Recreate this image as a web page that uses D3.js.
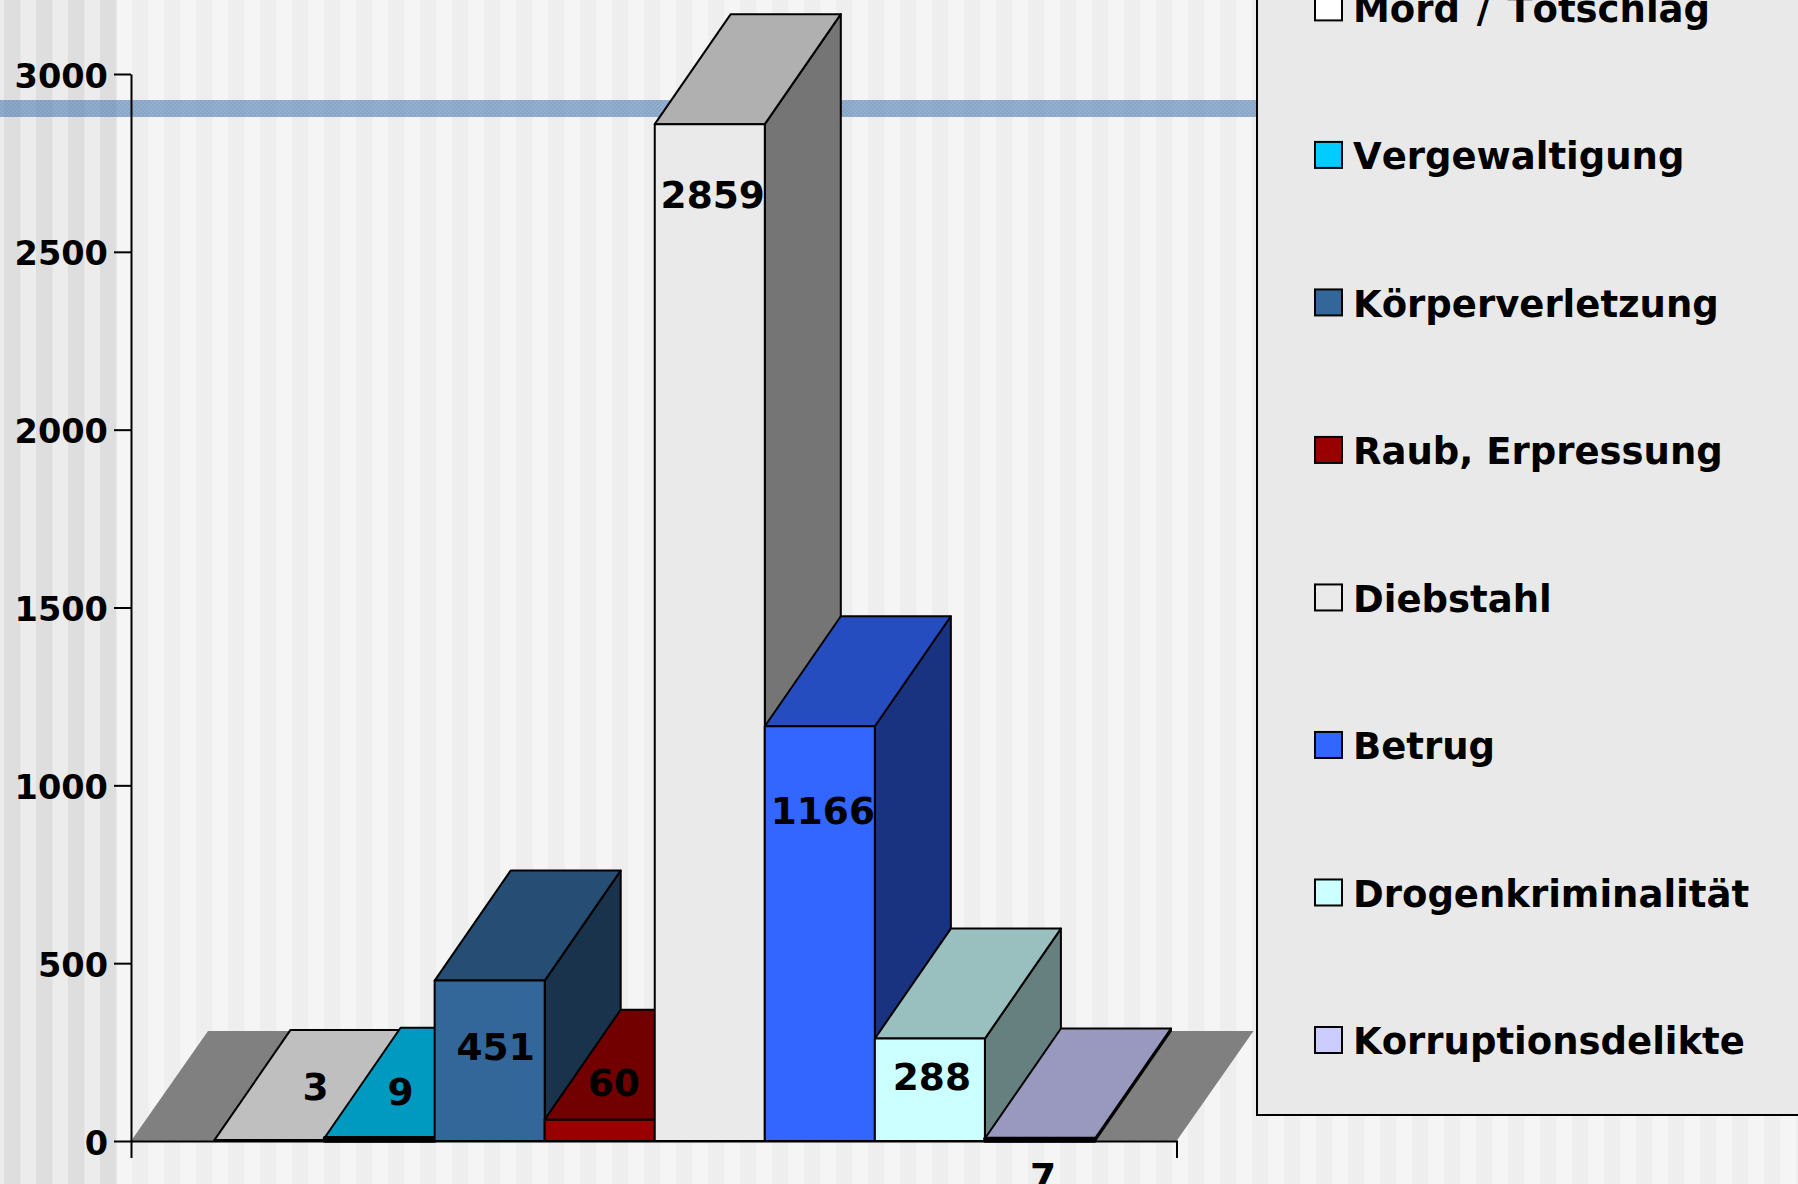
<!DOCTYPE html>
<html>
<head>
<meta charset="utf-8">
<script src="https://cdn.jsdelivr.net/npm/d3@7"></script>
<style>
html, body { margin: 0; padding: 0; background: #f5f5f5; overflow: hidden; }
text { font-family: "DejaVu Sans", sans-serif; font-weight: bold; fill: #000; }
</style>
</head>
<body>
<div id="chart-area"></div>
<script>
// Data
const categories = ["Mord / Totschlag", "Vergewaltigung", "Körperverletzung", "Raub, Erpressung",
    "Diebstahl", "Betrug", "Drogenkriminalität", "Korruptionsdelikte"];
const values = [3, 9, 451, 60, 2859, 1166, 288, 7];
const colors = ["#ffffff", "#00ccff", "#336699", "#990000", "#eaeaea", "#3366ff", "#ccffff", "#ccccff"];
const yTicks = [0, 500, 1000, 1500, 2000, 2500, 3000];

// labels were moved by hand in the original, so each one has its own offset
const labelOffsets = [[47, -53], [22, -46], [7, 66], [15, -37], [4, 70], [4, 84], [3, 38], [4, 38]];

let width = 1798, height = 1184;
let left = 131, right = 1176.5, zero = 1141, top3000 = 74;
let depth = {x: 76, y: 110};
let barShift = 1;

let svg = d3.select("#chart-area").append("svg")
    .attr("width", width)
    .attr("height", height)
    .style("display", "block");

// Background stripes
let stripes = svg.append("g");
stripes.append("rect").attr("width", 116).attr("height", height).attr("fill", "#ececec");
stripes.append("rect").attr("x", 116).attr("width", width - 116).attr("height", height).attr("fill", "#f5f5f5");
d3.range(4, width, 32).forEach(function(sx) {
    stripes.append("rect")
        .attr("x", sx)
        .attr("width", 16.5)
        .attr("height", height)
        .attr("fill", sx < 116 ? "#dedede" : "#eeeeee");
});

// Blue band behind the chart
let defs = svg.append("defs");
let pat = defs.append("pattern")
    .attr("id", "dither")
    .attr("width", 4).attr("height", 4)
    .attr("patternUnits", "userSpaceOnUse");
pat.append("rect").attr("width", 4).attr("height", 4).attr("fill", "#5a84b6").attr("fill-opacity", 0.62);
pat.append("rect").attr("width", 2).attr("height", 2).attr("fill", "#3f6ca3").attr("fill-opacity", 0.12);
pat.append("rect").attr("x", 2).attr("y", 2).attr("width", 2).attr("height", 2).attr("fill", "#3f6ca3").attr("fill-opacity", 0.12);

svg.append("rect")
    .attr("x", 0).attr("y", 100)
    .attr("width", 1257).attr("height", 17)
    .attr("fill", "url(#dither)");

// Scales
let x = d3.scaleBand()
    .domain(categories)
    .range([left, right])
    .paddingInner(0)
    .paddingOuter(0.75);

let y = d3.scaleLinear()
    .domain([0, 3000])
    .range([zero, top3000]);

function shade(c, k) {
    let r = d3.rgb(c);
    return d3.rgb(r.r * k, r.g * k, r.b * k).formatHex();
}

// Floor
svg.append("path")
    .attr("d", d3.line()([[left, zero], [left + depth.x + 1, zero - depth.y],
        [right + depth.x + 1, zero - depth.y], [right, zero]]) + "Z")
    .attr("fill", "#808080");

// Axes
let yAxis = d3.axisLeft(y).tickValues(yTicks).tickFormat(d3.format("d")).tickSize(17).tickSizeOuter(0).tickPadding(6);
let xAxis = d3.axisBottom(x).tickValues([]).tickSizeOuter(17);

let yg = svg.append("g").attr("transform", "translate(" + left + ",0)").call(yAxis);
yg.selectAll("text").style("font-size", "33.6px").attr("dy", "0.39em");
yg.selectAll("line, path").attr("stroke", "#000").attr("stroke-width", 2);

let xg = svg.append("g").attr("transform", "translate(0," + zero + ")").call(xAxis);
xg.selectAll("path").attr("stroke", "#000").attr("stroke-width", 2);

// Bars, left to right so each one covers the side of the one before
let bars = svg.selectAll(".bar")
    .data(values)
    .enter().append("g")
    .attr("class", "bar")
    .attr("transform", "translate(" + barShift + ",0)");

function outline(sel) {
    return sel.attr("stroke", "#000").attr("stroke-width", 2).attr("stroke-linejoin", "round");
}

outline(bars.append("path"))   // side
    .attr("fill", (d, i) => shade(colors[i], 0.5))
    .attr("d", function(d, i) {
        let x1 = x(categories[i]) + x.bandwidth();
        return d3.line()([[x1, y(d)], [x1 + depth.x, y(d) - depth.y],
            [x1 + depth.x, zero - depth.y], [x1, zero]]) + "Z";
    });

outline(bars.append("path"))   // top
    .attr("fill", (d, i) => shade(colors[i], 0.75))
    .attr("d", function(d, i) {
        let x0 = x(categories[i]), x1 = x0 + x.bandwidth();
        return d3.line()([[x0, y(d)], [x0 + depth.x, y(d) - depth.y],
            [x1 + depth.x, y(d) - depth.y], [x1, y(d)]]) + "Z";
    });

outline(bars.append("rect"))   // front
    .attr("fill", (d, i) => colors[i])
    .attr("x", (d, i) => x(categories[i]))
    .attr("y", d => y(d))
    .attr("width", x.bandwidth())
    .attr("height", d => zero - y(d))
    // the very short fronts read as one thick line in the reference
    .attr("stroke-width", d => (zero - y(d) > 2 && zero - y(d) < 5) ? 3.4 : 2);

// Value labels
svg.selectAll(".value")
    .data(values)
    .enter().append("text")
    .attr("class", "value")
    .attr("text-anchor", "middle")
    .attr("dy", "0.36em")
    .style("font-size", "37.5px")
    .attr("x", (d, i) => x(categories[i]) + x.bandwidth() / 2 + labelOffsets[i][0])
    .attr("y", (d, i) => y(d) + labelOffsets[i][1])
    .text(d => d);

// Legend
svg.append("rect")
    .attr("x", 1257).attr("y", -10)
    .attr("width", 600).attr("height", 1125)
    .attr("fill", "#e9e9e9")
    .attr("stroke", "#000")
    .attr("stroke-width", 2);

let legendY = d3.scalePoint()
    .domain(categories)
    .range([7.4, 1040]);

let items = svg.selectAll(".legend-item")
    .data(categories)
    .enter().append("g")
    .attr("class", "legend-item")
    .attr("transform", d => "translate(1315," + legendY(d) + ")");

items.append("rect")
    .attr("x", 0).attr("y", -13)
    .attr("width", 27).attr("height", 26)
    .attr("fill", (d, i) => colors[i])
    .attr("stroke", "#000")
    .attr("stroke-width", 2);

items.append("text")
    .attr("x", 38)
    .attr("dy", "0.39em")
    .style("font-size", "37px")
    .style("font-kerning", "none")
    .style("word-spacing", d => d.includes("/") ? "4px" : null)
    .text(d => d);
</script>
</body>
</html>
